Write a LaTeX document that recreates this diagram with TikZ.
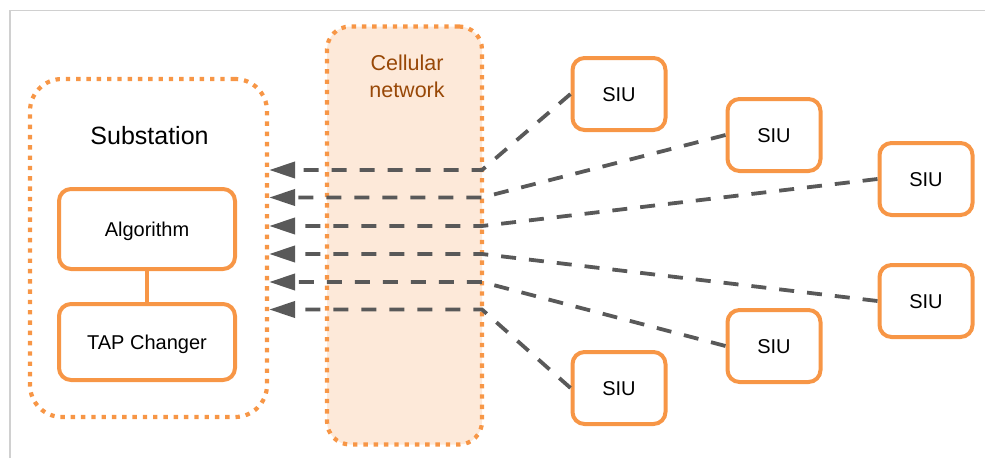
\documentclass[tikz,border=0pt]{standalone}
\usepackage{fontspec}
\setmainfont{Liberation Sans}
\usetikzlibrary{arrows.meta}

\definecolor{accent}{HTML}{F79646}
\definecolor{peach}{HTML}{FDE9D9}
\definecolor{brownish}{HTML}{984807}
\definecolor{linkgray}{HTML}{595959}
\definecolor{framegray}{HTML}{D0D0D0}

\tikzset{
  group/.style={draw=accent, line width=4.2pt, dash pattern=on 4.4pt off 5.9pt,
    rectangle, inner sep=0pt},
  unit/.style={draw=accent, line width=4pt, rectangle, rounded corners=12pt,
    fill=white, inner sep=0pt, text height=14.3pt, text depth=0pt,
    font=\fontsize{20}{24}\selectfont},
  siu/.style={unit, minimum width=93pt, minimum height=72pt},
  link/.style={draw=linkgray, line width=3.8pt, dash pattern=on 15pt off 13pt,
    -{Triangle[length=26pt,width=16pt]}},
}

\begin{document}
\begin{tikzpicture}[x=1pt,y=-1pt]
\useasboundingbox (0,0) rectangle (985,458);

% page frame
\draw[framegray, line width=1.5pt] (10,458) -- (10,10.5) -- (985,10.5);

% containers
\node[group, rounded corners=32pt, minimum width=237pt, minimum height=338pt]
  (sub) at (148.5,248) {};
\node[group, fill=peach, rounded corners=23pt, minimum width=155pt, minimum height=418pt]
  (cell) at (404.5,235.5) {};

\node[anchor=base, font=\fontsize{25}{29}\selectfont] (subtitle) at (149.5,144) {Substation};
\node[align=center, text=brownish, font=\fontsize{21.5}{27}\selectfont] (celltitle)
  at (407,76) {Cellular\\network};

% substation internals
\node[unit, minimum width=176pt, minimum height=80pt] (alg) at (147,229) {Algorithm};
\node[unit, minimum width=176pt, minimum height=76pt] (tap) at (147,342) {TAP Changer};
\draw[accent, line width=4pt] (alg.south) -- (tap.north);

% field units
\node[siu] (s1) at (619,94)  {SIU};
\node[siu] (s2) at (774,135) {SIU};
\node[siu] (s3) at (926,179) {SIU};
\node[siu] (s4) at (926,301) {SIU};
\node[siu] (s5) at (774,346) {SIU};
\node[siu] (s6) at (619,388) {SIU};

% junctions on the network edge
\coordinate (j1) at (482,170);
\coordinate (j2) at (482,197.5);
\coordinate (j3) at (482,226);
\coordinate (j4) at (482,254);
\coordinate (j5) at (482,282);
\coordinate (j6) at (482,309.5);

% links from each unit through the network to the substation
\draw[link] (s1.west) -- (j1) -- (sub.east |- j1);
\draw[link] (s2.west) -- (j2) -- (sub.east |- j2);
\draw[link] (s3.west) -- (j3) -- (sub.east |- j3);
\draw[link] (s4.west) -- (j4) -- (sub.east |- j4);
\draw[link] (s5.west) -- (j5) -- (sub.east |- j5);
\draw[link] (s6.west) -- (j6) -- (sub.east |- j6);
\end{tikzpicture}
\end{document}
